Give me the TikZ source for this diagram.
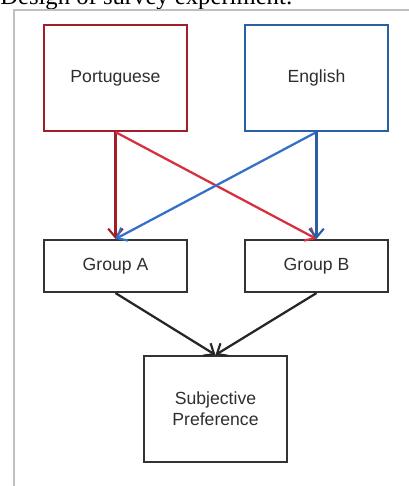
\documentclass[tikz,border=0pt]{standalone}
\usepackage{fontspec}
\setmainfont{Liberation Sans}
\newfontfamily\titlefont{Liberation Serif}
\usepackage{tikz}
\usetikzlibrary{arrows.meta, positioning}
\definecolor{portred}{RGB}{160,32,42}
\definecolor{crossred}{RGB}{212,48,62}
\definecolor{engblue}{RGB}{42,95,165}
\definecolor{arrblue}{RGB}{52,112,200}
\definecolor{framegray}{RGB}{192,192,192}

\begin{document}
\begin{tikzpicture}[x=0.75pt, y=-0.75pt,
    box/.style={draw, line width=1.6pt, fill=white, inner sep=0pt, align=center,
      font=\fontsize{13.2}{15.5}\selectfont, text=black!82},
    link/.style={line width=1.7pt, -{Straight Barb[length=6.5pt, width=11pt, line width=1.6pt]}}]
      \useasboundingbox (0,0) rectangle (409,486);
      \begin{scope}
      \clip (0,0) rectangle (409,486);
      \node[anchor=base west, inner sep=0pt, font=\titlefont\fontsize{18.5}{20}\selectfont] (title) at (0,4) {Design of survey experiment:};
      \draw[framegray, line width=1.5pt] (14,490) -- (14,10) -- (415,10);
      \end{scope}
      \node[box, draw=portred, minimum width=107pt, minimum height=79.5pt] (port) at (115.5,78) {Portuguese};
      \node[box, draw=engblue, minimum width=107pt, minimum height=79.5pt] (eng) at (316.5,78) {English};
      \node[box, draw=black!80, minimum width=107pt, minimum height=39pt] (grpA) at (115.5,266) {Group A};
      \node[box, draw=black!80, minimum width=107pt, minimum height=39pt] (grpB) at (316.5,266) {Group B};
      \node[box, draw=black!80, minimum width=107pt, minimum height=79.5pt] (pref) at (215.5,409) {Subjective\\Preference};
      \draw[link, portred] (port.south) -- (grpA.north);
      \draw[link, crossred] (port.south) -- (grpB.north);
      \draw[link, arrblue] (eng.south) -- (grpA.north);
      \draw[link, engblue] (eng.south) -- (grpB.north);
      \draw[link, black!85] (grpA.south) -- (pref.north);
      \draw[link, black!85] (grpB.south) -- (pref.north);
    \end{tikzpicture}
\end{document}
